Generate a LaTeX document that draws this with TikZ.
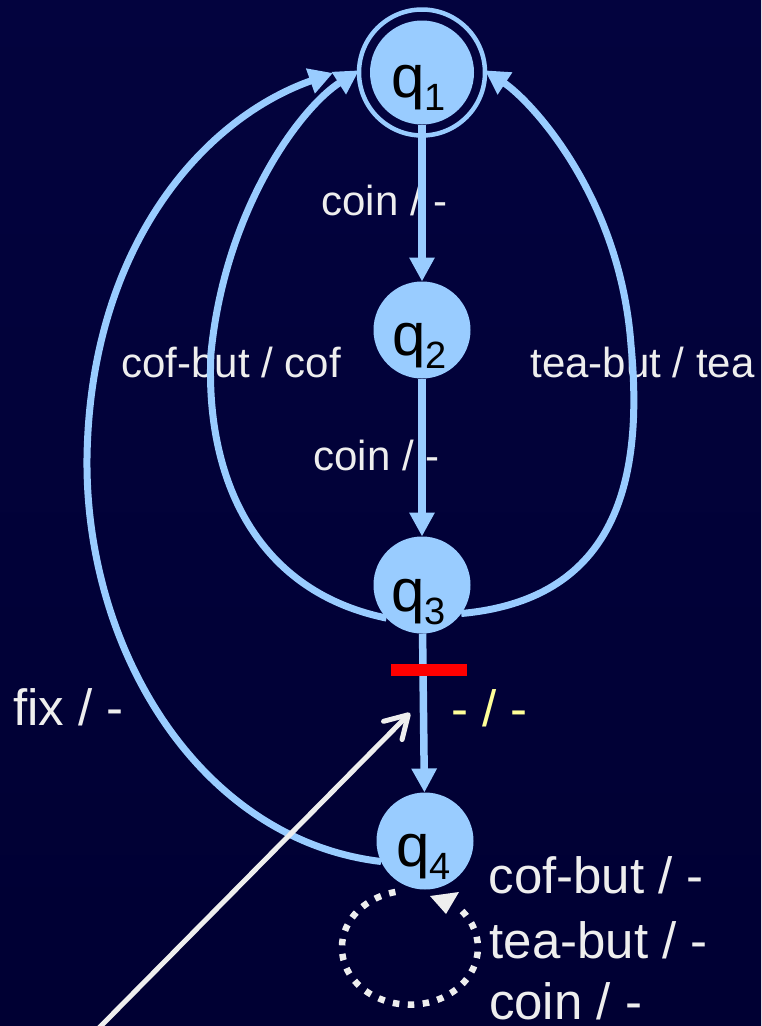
\documentclass[tikz,border=0pt]{standalone}
\usepackage{fontspec}
\setmainfont{Liberation Sans}
\usetikzlibrary{arrows.meta}
\definecolor{nodeblue}{HTML}{99CCFF}
\definecolor{lbl}{HTML}{EEEEEE}
\definecolor{ylw}{HTML}{FFFF99}
\definecolor{bgtop}{HTML}{03033E}
\definecolor{bgmid}{HTML}{000066}
\definecolor{bgbot}{HTML}{000033}
\begin{document}
\begin{tikzpicture}[x=1pt,y=-1pt,
  state/.style={circle,fill=nodeblue,inner sep=0pt,outer sep=0pt,minimum size=97pt},
  ringnode/.style={circle,draw=nodeblue,line width=4.5pt,inner sep=0pt,outer sep=0pt,minimum size=126pt},
  edge/.style={draw=nodeblue,line width=7.5pt,-{Triangle[length=24pt,width=24pt]}},
  arcedge/.style={draw=nodeblue,line width=7pt,-{Triangle[length=24pt,width=25pt]}},
  lab/.style={text=lbl,font=\fontsize{42}{42}\selectfont,anchor=base west,inner sep=0pt,outer sep=0pt},
  biglab/.style={lab,font=\fontsize{51}{51}\selectfont},
  qlab/.style={text=black,font=\fontsize{60}{60}\selectfont,anchor=base west,inner sep=0pt,outer sep=0pt},
  pointer/.style={draw=lbl,line width=5pt,line cap=round,-{Straight Barb[length=22pt,width=26pt,round]}},
  dotloop/.style={draw=lbl,line width=6.5pt,dash pattern=on 6.5pt off 8.5pt}
]
% background
\shade[top color=bgtop,middle color=bgmid,bottom color=bgbot] (0,0) rectangle (761,1026);
\useasboundingbox (0,0) rectangle (761,1026);

% states
\node[state,minimum size=104pt] (q1) at (422,72.5) {};
\node[ringnode] (q1r) at (422,72.5) {};
\node[state] (q2) at (422,330) {};
\node[state] (q3) at (422,585) {};
\node[state] (q4) at (425,841) {};

% state labels
\newcommand{\qsub}[1]{\raisebox{-13pt}{\fontsize{38}{38}\selectfont #1}}
\node[qlab] (t1) at (391,97) {q\qsub{1}};
\node[qlab] (t2) at (392,355) {q\qsub{2}};
\node[qlab] (t3) at (391,611) {q\qsub{3}};
\node[qlab] (t4) at (396,866) {q\qsub{4}};

% edge labels
\node[lab] (l12) at (321.5,215) {coin / -};
\node[lab] (l23) at (313.5,470) {coin / -};
\node[lab] (lcof) at (121.5,377) {cof-but / cof};
\node[lab] (ltea) at (530.5,377) {tea-but / tea};
\node[biglab] (lfix) at (13,725) {fix / -};
\node[biglab,text=ylw] (l34) at (451,726) {- / -};
\node[biglab] (lloop1) at (488.5,893) {cof-but / -};
\node[biglab] (lloop2) at (489.5,958) {tea-but / -};
\node[biglab] (lloop3) at (489,1019) {coin / -};

% straight edges
\draw[edge] (q1) -- (q2);
\draw[edge] (q2) -- (q3);
\draw[edge] (q3) -- (q4);
\fill[red] (391,664) rectangle (467,676);

% curved edges
\coordinate (fixend) at (333,73);
\draw[arcedge] (q3.223) .. controls (250,590) and (205,470) .. (211,353)
   .. controls (225,210) and (300,108) .. (q1r.178);
\draw[arcedge] (q3.324) .. controls (610,600) and (645,490) .. (631,345)
   .. controls (620,195) and (530,100) .. (q1r.2);
\draw[arcedge] (q4.205) .. controls (200,840) and (85,650) .. (87,458)
   .. controls (90,250) and (200,120) .. (fixend);

% pointer arrow
\coordinate (pstart) at (95,1032);
\coordinate (ptip) at (410,713);
\draw[pointer] (pstart) -- (ptip);

% self loop of q4
\coordinate (loopstart) at (462,911);
\draw[dotloop] (loopstart) arc[start angle=-40,end angle=258,x radius=68,y radius=57];
\fill[lbl] (430,896) -- (459,892) -- (446,914) -- cycle;
\end{tikzpicture}
\end{document}
